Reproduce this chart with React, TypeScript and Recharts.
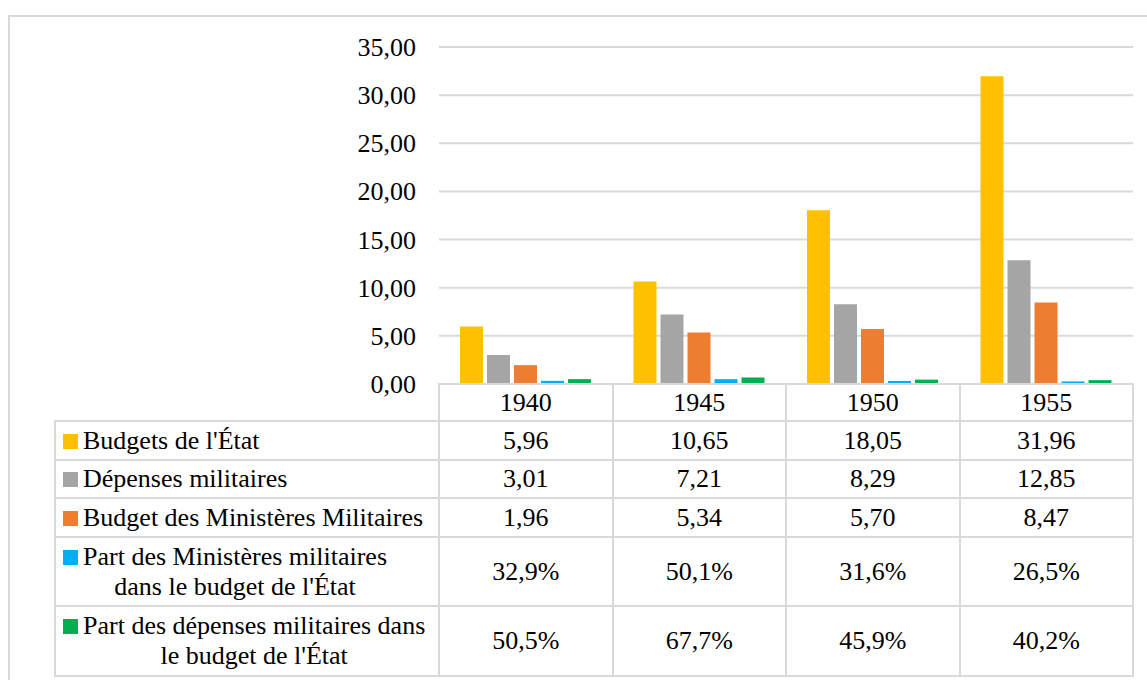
import React from "react";
import { BarChart, Bar, XAxis, YAxis, CartesianGrid } from "recharts";

const years = ["1940", "1945", "1950", "1955"];
const budgetsEtat = [5.96, 10.65, 18.05, 31.96];
const depensesMilitaires = [3.01, 7.21, 8.29, 12.85];
const budgetMinisteres = [1.96, 5.34, 5.7, 8.47];
const partMinisteres = [0.329, 0.501, 0.316, 0.265];
const partDepenses = [0.505, 0.677, 0.459, 0.402];
const yTicks = [0, 5, 10, 15, 20, 25, 30, 35];

const series = [
  { key: "budgets", name: "Budgets de l'État", values: budgetsEtat, color: "#FFC000", pct: false },
  { key: "depenses", name: "Dépenses militaires", values: depensesMilitaires, color: "#A5A5A5", pct: false },
  { key: "ministeres", name: "Budget des Ministères Militaires", values: budgetMinisteres, color: "#ED7D31", pct: false },
  { key: "partMin", name: "Part des Ministères militaires\ndans le budget de l'État", values: partMinisteres, color: "#00B0F0", pct: true },
  { key: "partDep", name: "Part des dépenses militaires dans\nle budget de l'État", values: partDepenses, color: "#00B050", pct: true },
];

const data = years.map((year, i) => {
  const row: Record<string, string | number> = { year };
  series.forEach((s) => {
    row[s.key] = s.values[i];
  });
  return row;
});

const FONT = "Liberation Serif";
const GRID = "#D9D9D9";
const txt = { fontFamily: FONT, fontSize: 26, color: "#000" };

// plot box
const PLOT_LEFT = 439;
const PLOT_RIGHT = 1133;
const PLOT_TOP = 47;
const PLOT_BOTTOM = 384;
const TABLE_LEFT = 55;
const rowLines = [384, 421, 460, 498, 537, 606, 676];

const fmt = (v: number, pct: boolean) =>
  pct
    ? (v * 100).toFixed(1).replace(".", ",") + "%"
    : v.toFixed(2).replace(".", ",");

function YTick(props: any) {
  const { x, y, payload } = props;
  return (
    <text
      x={x}
      y={y}
      dy={9}
      textAnchor="end"
      fill="#000"
      fontFamily={FONT}
      fontSize={26}
      style={{ fontFamily: FONT, fontSize: 26 }}
    >
      {fmt(payload.value, false)}
    </text>
  );
}

function DataTable() {
  const colW = (PLOT_RIGHT - PLOT_LEFT) / years.length;
  const colX = years.map((_, i) => PLOT_LEFT + i * colW);
  const lines: React.ReactNode[] = [];

  rowLines.forEach((y, i) => {
    const x0 = i === 0 ? PLOT_LEFT : TABLE_LEFT;
    lines.push(
      <div
        key={"h" + i}
        style={{ position: "absolute", left: x0 - 1, top: y - 1, width: PLOT_RIGHT - x0 + 2, height: 2, background: GRID }}
      />
    );
  });
  [TABLE_LEFT, ...colX, PLOT_RIGHT].forEach((x, i) => {
    const y0 = i === 0 ? rowLines[1] : rowLines[0];
    lines.push(
      <div
        key={"v" + i}
        style={{ position: "absolute", left: x - 1, top: y0 - 1, width: 2, height: rowLines[rowLines.length - 1] - y0 + 2, background: GRID }}
      />
    );
  });

  const cell = (x: number, y: number, w: number, h: number, content: string, key: string) => (
    <div
      key={key}
      style={{
        ...txt,
        position: "absolute",
        left: x,
        top: y,
        width: w,
        height: h,
        lineHeight: h + "px",
        textAlign: "center",
      }}
    >
      {content}
    </div>
  );

  const cells: React.ReactNode[] = [];
  years.forEach((yr, i) => {
    cells.push(cell(colX[i], rowLines[0], colW, rowLines[1] - rowLines[0], yr, "yr" + i));
  });
  series.forEach((s, r) => {
    const top = rowLines[r + 1];
    const h = rowLines[r + 2] - top;
    cells.push(
      <div
        key={"lab" + r}
        style={{
          position: "absolute",
          left: TABLE_LEFT + 8,
          top,
          height: h,
          display: "flex",
          alignItems: "center",
        }}
      >
        <div style={{ display: "flex", alignItems: "flex-start" }}>
          <div style={{ width: 15, height: 15, background: s.color, marginTop: 8, marginRight: 5, flex: "none" }} />
          <div style={{ ...txt, textAlign: "center", whiteSpace: "pre", lineHeight: "30px" }}>{s.name}</div>
        </div>
      </div>
    );
    s.values.forEach((v, i) => {
      cells.push(cell(colX[i], top, colW, h, fmt(v, s.pct), "c" + r + "-" + i));
    });
  });

  return (
    <div style={{ position: "absolute", left: 0, top: 0 }}>
      {lines}
      {cells}
    </div>
  );
}

export default function App() {
  return (
    <div style={{ position: "absolute", left: 0, top: 0, width: 1147, height: 680, background: "#fff" }}>
      <div
        style={{
          position: "absolute",
          left: 8,
          top: 15,
          width: 1139,
          height: 665,
          borderLeft: `2px solid ${GRID}`,
          borderTop: `2px solid ${GRID}`,
        }}
      />
      <div style={{ position: "absolute", left: 0, top: 0 }}>
        <BarChart
          width={1147}
          height={PLOT_BOTTOM + 16}
          data={data}
          margin={{ top: PLOT_TOP, right: 1147 - PLOT_RIGHT, left: 0, bottom: 16 }}
          barSize={23}
          barGap={4}
        >
          <CartesianGrid vertical={false} stroke={GRID} strokeWidth={2} />
          <XAxis dataKey="year" hide />
          <YAxis
            width={PLOT_LEFT}
            domain={[0, 35]}
            ticks={yTicks}
            interval={0}
            axisLine={false}
            tickLine={false}
            tickSize={0}
            tickMargin={23}
            tick={<YTick />}
          />
          {series.map((s) => (
            <Bar key={s.key} dataKey={s.key} name={s.name} fill={s.color} isAnimationActive={false} />
          ))}
        </BarChart>
      </div>
      <DataTable />
    </div>
  );
}
